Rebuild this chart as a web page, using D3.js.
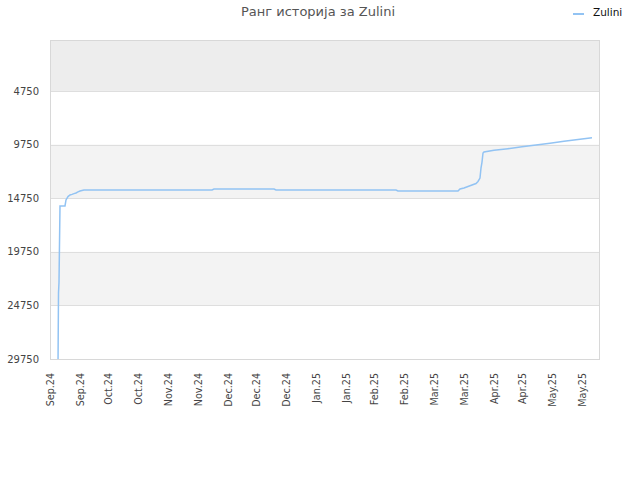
<!DOCTYPE html>
<html><head><meta charset="utf-8">
<script src="https://cdn.jsdelivr.net/npm/d3@7/dist/d3.min.js"></script>
<style>body{margin:0;background:#fff}svg{display:block}text{font-family:"DejaVu Sans",sans-serif}</style>
</head><body>
<script>
const title = "Ранг историја за Zulini";
const seriesName = "Zulini";
const dates = ["2024-09-07T00:00","2024-09-07T06:00","2024-09-07T12:00","2024-09-08T00:00","2024-09-10T12:00","2024-09-11T00:00","2024-09-12","2024-09-13","2024-09-14","2024-09-15","2024-09-16","2024-09-17","2024-09-18","2024-09-19","2024-09-20","2024-09-21","2024-11-23","2024-11-24","2024-12-24","2024-12-25","2025-02-23","2025-02-24","2025-03-26","2025-03-27","2025-03-29","2025-03-31","2025-04-02","2025-04-04","2025-04-05","2025-04-06","2025-04-06T12:00","2025-04-07","2025-04-07T12:00","2025-04-08","2025-04-13","2025-04-20","2025-04-27","2025-05-04","2025-05-11","2025-05-18","2025-05-25","2025-06-01"];
const ranks = [30500,23600,22600,15480,15480,14920,14600,14455,14400,14330,14270,14170,14080,14040,14000,13990,13990,13896,13896,13990,13990,14082,14082,13896,13803,13663,13523,13383,13196,12870,11940,11380,10540,10445,10277,10132,9960,9793,9625,9452,9280,9111];
const yTicks = [4750,9750,14750,19750,24750,29750];
const bands = [[0,4750,"#ededed"],[9750,14750,"#f3f3f3"],[19750,24750,"#f3f3f3"]];
const xTickDates = ["2024-09-03","2024-09-18","2024-10-02","2024-10-17","2024-11-01","2024-11-16","2024-12-01","2024-12-15","2024-12-30","2025-01-14","2025-01-29","2025-02-12","2025-02-27","2025-03-14","2025-03-29","2025-04-13","2025-04-27","2025-05-12","2025-05-27"];
const xTickLabels = ["Sep.24","Sep.24","Oct.24","Oct.24","Nov.24","Nov.24","Dec.24","Dec.24","Dec.24","Jan.25","Jan.25","Feb.25","Feb.25","Mar.25","Mar.25","Apr.25","Apr.25","May.25","May.25"];

const W=640,H=480, L=50,R=600,T=40,B=359;
const parse = s => new Date(s.length===10 ? s+"T00:00" : s);
const data = dates.map((d,i)=>({d:parse(d), v:ranks[i]}));
const svg = d3.select("body").append("svg").attr("width",W).attr("height",H);
const x = d3.scaleTime().domain([parse("2024-09-03"), parse("2025-06-05")]).range([L,R]);
const y = d3.scaleLinear().domain([0,29750]).range([T,B]);

svg.append("defs").append("clipPath").attr("id","clip").append("rect").attr("x",L).attr("y",T).attr("width",R-L).attr("height",B-T);

svg.selectAll("rect.band").data(bands).join("rect").attr("class","band")
  .attr("x",L).attr("width",R-L).attr("y",d=>y(d[0])).attr("height",d=>y(d[1])-y(d[0])).attr("fill",d=>d[2]);

svg.selectAll("line.grid").data(yTicks).join("line").attr("class","grid")
  .attr("x1",L).attr("x2",R).attr("y1",d=>Math.round(y(d))+0.5).attr("y2",d=>Math.round(y(d))+0.5)
  .attr("stroke","#dedede").attr("stroke-width",1);

svg.append("rect").attr("x",L+0.5).attr("y",T+0.5).attr("width",R-L-1).attr("height",B-T).attr("fill","none").attr("stroke","#d8d8d8");

const yAxis = svg.append("g").attr("transform",`translate(${L},0)`)
  .call(d3.axisLeft(y).tickValues(yTicks).tickFormat(d3.format("d")).tickSize(0).tickPadding(11));
yAxis.select(".domain").remove();
yAxis.selectAll("text").attr("font-size",10).attr("fill","#444").attr("font-family","DejaVu Sans");

const xAxis = svg.append("g").attr("transform",`translate(0,${B})`)
  .call(d3.axisBottom(x).tickValues(xTickDates.map(parse)).tickFormat((d,i)=>xTickLabels[i]).tickSize(0));
xAxis.select(".domain").remove();
xAxis.selectAll("text").attr("font-size",9.6).attr("fill","#444").attr("font-family","DejaVu Sans")
  .attr("text-anchor","end").attr("transform","translate(0,14) rotate(-90)").attr("x",0).attr("y",0).attr("dy","0.35em");

const line = d3.line().x(d=>x(d.d)).y(d=>y(d.v));
svg.append("path").datum(data).attr("d",line).attr("fill","none").attr("stroke","#92c3f3")
  .attr("stroke-width",1.5).attr("clip-path","url(#clip)");

svg.append("text").attr("x",318).attr("y",16).attr("text-anchor","middle").attr("font-size",13).attr("fill","#555").text(title);
svg.append("line").attr("x1",573).attr("x2",584).attr("y1",14).attr("y2",14).attr("stroke","#92c3f3").attr("stroke-width",2);
svg.append("text").attr("x",593).attr("y",16).attr("font-size",10.5).attr("fill","#111").text(seriesName);
</script>
</body></html>
